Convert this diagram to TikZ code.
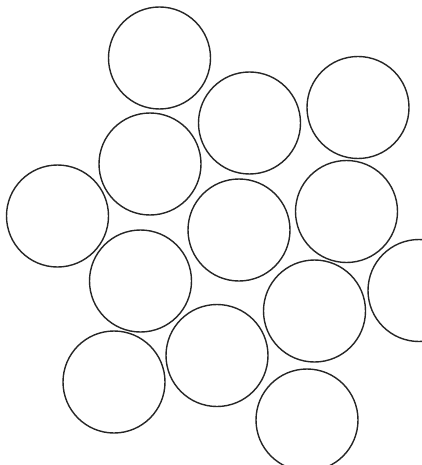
\documentclass[tikz,border=0pt]{standalone}
\usepackage{tikz}
\usetikzlibrary{positioning}

\tikzset{
  disc/.style={circle, draw=black!85, line width=1.4pt, minimum size=102pt, inner sep=0pt}
}

\begin{document}
\begin{tikzpicture}[x=1pt, y=-1pt]

% Page frame (pixel units, y downwards)
\useasboundingbox (0,0) rectangle (422,465);
\clip (0,0) rectangle (422,465);
\fill[white] (0,0) rectangle (422,465);

% Packed discs
\foreach \x/\y/\name in {159.5/58/dA, 249.5/123/dB, 358/107.5/dC,
                         150/164/dD, 57.5/216/dE, 239/230/dF, 346.5/211.5/dG,
                         140.5/281/dH, 314.5/311/dI, 419/290.5/dJ,
                         217/355.5/dK, 114/382/dL, 307/420/dM} {
    \node[disc] (\name) at (\x,\y) {};
}

\end{tikzpicture}
\end{document}
